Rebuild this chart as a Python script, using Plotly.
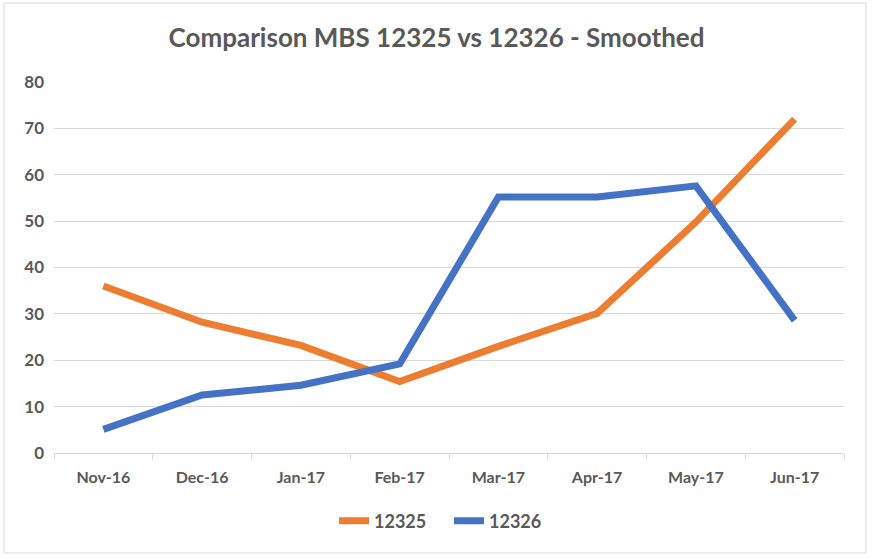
import plotly.graph_objects as go

categories = ["Nov-16", "Dec-16", "Jan-17", "Feb-17", "Mar-17", "Apr-17", "May-17", "Jun-17"]
s12325 = [36.0, 28.2, 23.2, 15.4, 23.0, 30.1, 49.8, 72.0]
s12326 = [5.1, 12.5, 14.6, 19.2, 55.2, 55.2, 57.6, 28.6]

FONT = "Lato"
GRAY = "#595959"

fig = go.Figure()
fig.add_trace(go.Scatter(x=categories, y=s12325, name="<b>12325</b>", mode="lines",
                         line=dict(color="#ED7D31", width=7)))
fig.add_trace(go.Scatter(x=categories, y=s12326, name="<b>12326</b>", mode="lines",
                         line=dict(color="#4472C4", width=7)))

L, R, T, B = 54, 29, 82, 105
W, H = 873, 558
pw, ph = W - L - R, H - T - B

fig.update_layout(
    width=W, height=H,
    margin=dict(l=L, r=R, t=T, b=B),
    paper_bgcolor="white", plot_bgcolor="white",
    title=dict(text="<b>Comparison MBS 12325 vs 12326 - Smoothed</b>",
               x=0.5, xanchor="center", y=1 - 38 / H, yanchor="middle",
               font=dict(family=FONT, size=26, color=GRAY)),
    font=dict(family=FONT, color=GRAY),
    legend=dict(orientation="h", x=0.5, xanchor="center", y=-(521 - (T + ph)) / ph, yanchor="middle",
                font=dict(family=FONT, size=18, color=GRAY), itemwidth=30, tracegroupgap=0,
                entrywidth=70),
    showlegend=True,
    shapes=[dict(type="rect", xref="paper", yref="paper",
                 x0=(4 - L) / pw, x1=(W - 7 - L) / pw,
                 y0=-(H - 5 - T - ph) / ph, y1=1 + (T - 3) / ph,
                 line=dict(color="#D9D9D9", width=1), layer="below")],
)
fig.update_xaxes(type="category", range=[-0.5, 7.5], showgrid=False,
                 showline=True, linecolor="#D9D9D9", linewidth=1,
                 ticks="outside", tickson="boundaries", ticklen=6, tickcolor="#D9D9D9",
                 tickfont=dict(family=FONT, size=16, color=GRAY),
                 tickprefix="<b>", ticksuffix="</b>",
                 ticklabelstandoff=10)
fig.update_yaxes(range=[0, 80], dtick=10, showgrid=True, gridcolor="#D9D9D9", gridwidth=1,
                 zeroline=False, showline=False,
                 tickfont=dict(family=FONT, size=17, color=GRAY),
                 tickprefix="<b>", ticksuffix="</b>",
                 ticklabelstandoff=9)

fig.write_html("out.html", config={"displayModeBar": False},
               post_script="document.body.style.margin='0';")
